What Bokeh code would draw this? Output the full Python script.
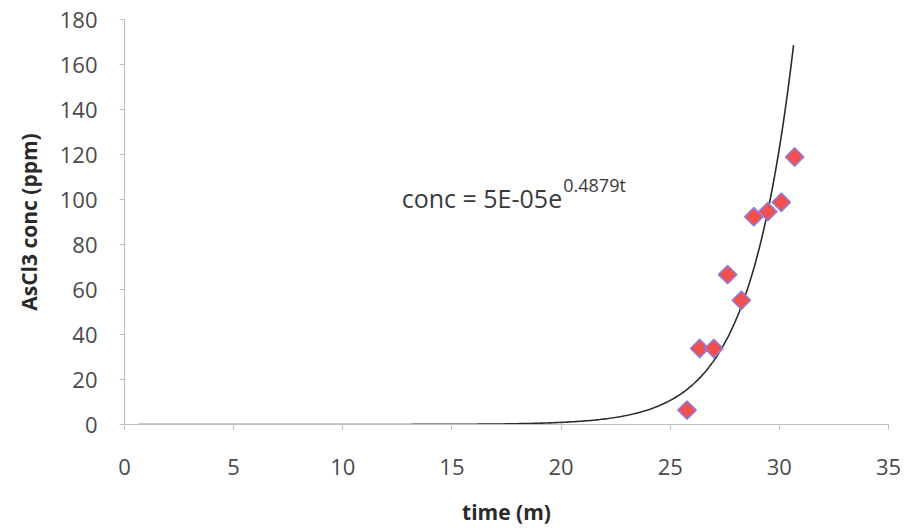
import numpy as np
from bokeh.plotting import figure
from bokeh.models import Range1d, Label, FixedTicker, ColumnDataSource
from bokeh.embed import file_html
from bokeh.resources import INLINE

# Observed data (time in minutes, AsCl3 concentration in ppm)
time_m = [25.77, 26.35, 27.0, 27.63, 28.26, 28.83, 29.47, 30.09, 30.70]
conc_ppm = [6.4, 33.8, 33.8, 66.6, 55.2, 92.3, 94.6, 98.8, 118.9]

# Exponential trendline shown on chart: conc = A * exp(B * t)
TREND_A = 5.4e-05
TREND_B = 0.4879
TREND_T_START = 0.65
TREND_T_END = 30.65

x_ticks = [0, 5, 10, 15, 20, 25, 30, 35]
y_ticks = [0, 20, 40, 60, 80, 100, 120, 140, 160, 180]

FONT = "Open Sans"

p = figure(width=908, height=532, output_backend="svg", toolbar_location=None,
           x_range=Range1d(0, 35), y_range=Range1d(0, 180),
           min_border_left=124, min_border_right=20, min_border_top=19,
           min_border_bottom=108)
p.outline_line_color = None
p.xgrid.visible = False
p.ygrid.visible = False
p.background_fill_color = "white"
p.border_fill_color = "white"

# trendline
tt = np.linspace(TREND_T_START, TREND_T_END, 400)
trend = ColumnDataSource(dict(t=tt, c=TREND_A * np.exp(TREND_B * tt)))
p.line("t", "c", source=trend, line_color="#2b2b2b", line_width=1.6)

# data points
src = ColumnDataSource(dict(t=time_m, c=conc_ppm))
p.scatter("t", "c", source=src, marker="square", size=13, angle=np.pi / 4,
          fill_color="#f2504f", line_color="#8c7fe0", line_width=1.5)

# axes
for ax in (p.xaxis[0], p.yaxis[0]):
    ax.axis_line_color = "#c4bcc4"
    ax.axis_line_width = 1.2
    ax.major_tick_line_color = "#c4bcc4"
    ax.minor_tick_line_color = None
    ax.major_tick_in = 0
    ax.major_tick_out = 5
    ax.major_label_text_font = FONT
    ax.major_label_text_font_size = "22px"
    ax.major_label_text_color = "#4a4a4a"
    ax.axis_label_text_font = FONT
    ax.axis_label_text_font_size = "21px"
    ax.axis_label_text_font_style = "bold"
    ax.axis_label_text_color = "#2a2a2a"

p.xaxis.ticker = FixedTicker(ticks=x_ticks)
p.yaxis.ticker = FixedTicker(ticks=y_ticks)
p.xaxis.major_label_standoff = 29
p.yaxis.major_label_standoff = 22
p.xaxis.axis_label = "time (m)"
p.yaxis.axis_label = "AsCl3 conc (ppm)"
p.xaxis.axis_label_standoff = 20
p.yaxis.axis_label_standoff = 14

# equation label
p.add_layout(Label(x=12.7, y=100.5, text="conc = 5E-05e", text_font=FONT,
                   text_font_size="25px", text_color="#3a3a3a",
                   text_baseline="alphabetic", text_align="left"))
p.add_layout(Label(x=20.1, y=106.5, text="0.4879t", text_font=FONT,
                   text_font_size="18px", text_color="#3a3a3a",
                   text_baseline="alphabetic", text_align="left"))

open("out.html", "w").write(file_html(p, INLINE))
